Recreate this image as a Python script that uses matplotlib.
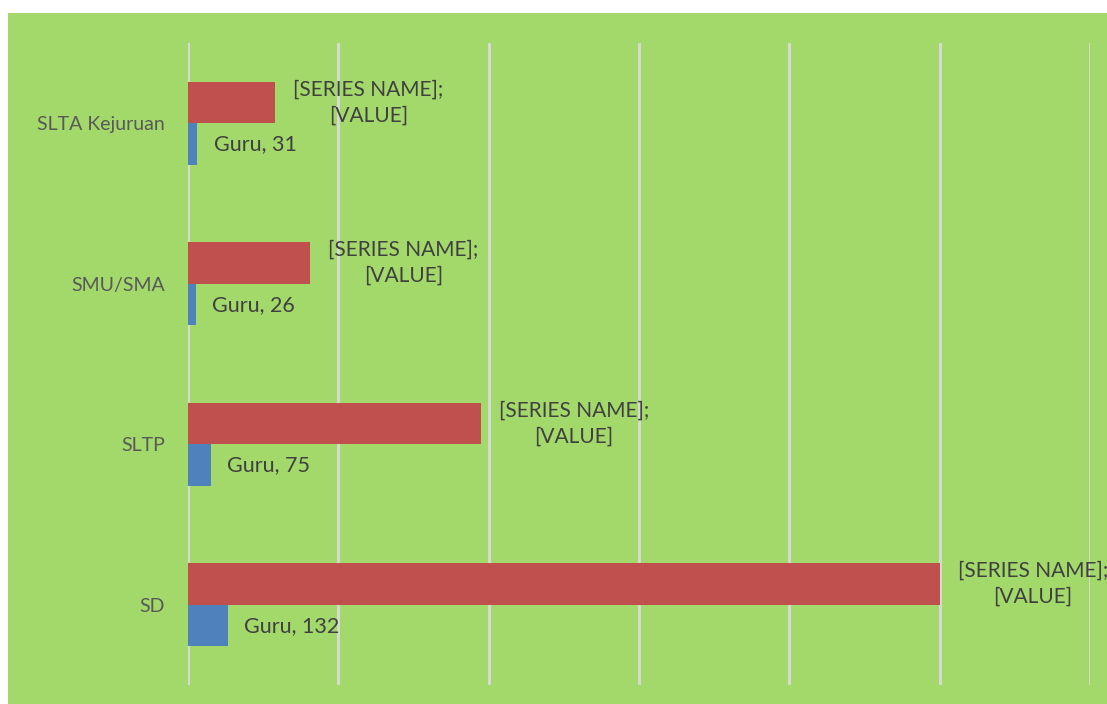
import matplotlib.pyplot as plt
import numpy as np
from matplotlib.patches import Rectangle

# data (bottom to top)
categories = ['SD', 'SLTP', 'SMU/SMA', 'SLTA Kejuruan']
guru = [132, 75, 26, 31]
murid = [2500, 973, 407, 290]   # second series, name shown only as placeholder
murid_label = '[SERIES NAME];\n[VALUE]'

plt.rcParams['font.family'] = ['Lato', 'DejaVu Sans']

fig = plt.figure(figsize=(11.07, 7.04), dpi=100)
# green chart area
fig.patches.append(Rectangle((8 / 1107, 0), 1, 1 - 13 / 704, transform=fig.transFigure,
                             facecolor='#a3d96b', edgecolor='none', zorder=-1))

ax = fig.add_axes([188 / 1107, 1 - 685 / 704, (1090 - 188) / 1107, (685 - 43) / 704])
ax.set_facecolor('none')

y = np.arange(len(categories))
h = 0.26
ax.barh(y + h / 2, murid, height=h, color='#c0504d', zorder=3)
ax.barh(y - h / 2, guru, height=h, color='#4f81bd', zorder=3)

for yi, g, m in zip(y, guru, murid):
    ax.text(g + 55, yi - h / 2, f'Guru, {g}', va='center', ha='left',
            fontsize=15.5, color='#404040', zorder=4)
    ax.text(m + 310, yi + h / 2, murid_label, va='center', ha='center',
            fontsize=15, color='#404040', linespacing=1.4, zorder=4,
            clip_on=False)

ax.set_xlim(0, 3000)
ax.set_ylim(-0.5, len(categories) - 0.5)
ax.set_xticks(np.arange(0, 3001, 500))
ax.set_xticklabels([])
ax.tick_params(axis='x', length=0)
ax.tick_params(axis='y', length=0, pad=16.5)
ax.set_yticks(y)
ax.set_yticklabels(categories, fontsize=14, color='#595959')
ax.grid(axis='x', color='#d9d9d9', linewidth=2, zorder=1)
for s in ax.spines.values():
    s.set_visible(False)

fig.savefig('out.png', dpi=100)
